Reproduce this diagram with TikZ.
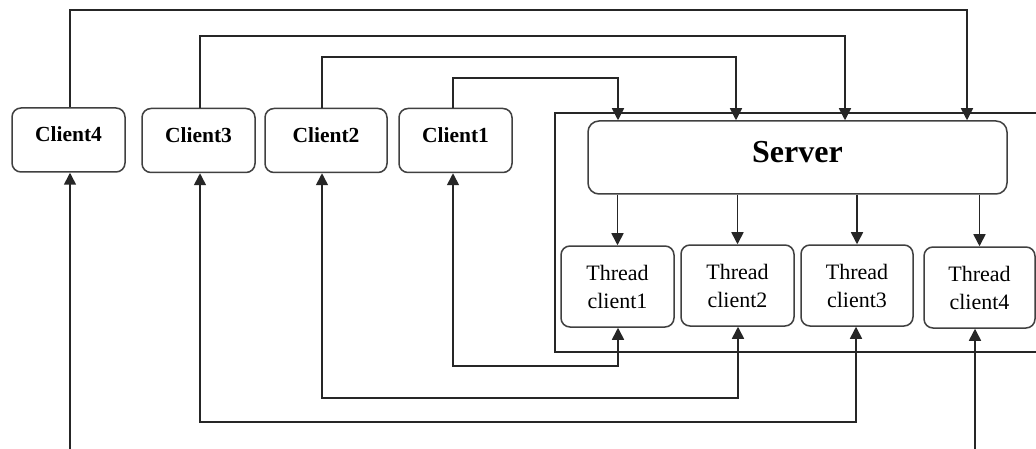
\documentclass[tikz,border=0pt]{standalone}
\usepackage{fontspec}
\setmainfont{Liberation Serif}
\usetikzlibrary{arrows.meta,calc}
\begin{document}
\begin{tikzpicture}[x=1pt,y=-1pt,
  box/.style={draw=black!75, line width=1.5pt, rounded corners=9pt, fill=white, inner sep=0pt},
  clientbox/.style={box, minimum width=113pt, minimum height=64pt,
    font=\fontsize{21.5}{25}\selectfont\bfseries, text height=14pt, text depth=10.5pt},
  threadbox/.style={box, minimum width=113pt, minimum height=81pt, align=center,
    font=\fontsize{22}{28}\selectfont},
  conn/.style={draw=black!85, line width=1.6pt},
  tip/.tip={Triangle[length=12pt,width=12pt]},
  arr/.style={conn, -tip},
  biarr/.style={conn, tip-tip}
]
\useasboundingbox (0,0) rectangle (1036,449);
\clip (0,0) rectangle (1036,449);
\fill[white] (0,0) rectangle (1036,449);

% server side container, open towards the right
\draw[conn] (1045,113) -- (555,113) -- (555,352) -- (1045,352);

% clients
\node[clientbox] (c4) at (68.5,140) {Client4};
\node[clientbox] (c3) at (198.5,140.5) {Client3};
\node[clientbox, minimum width=122pt] (c2) at (326,140.5) {Client2};
\node[clientbox] (c1) at (455.5,140.5) {Client1};

% server and its client threads
\node[box, minimum width=419pt, minimum height=73pt, rounded corners=11pt,
  font=\fontsize{32}{36}\selectfont\bfseries, text height=22pt, text depth=11pt]
  (srv) at (797.5,157.5) {Server};
\node[threadbox] (t1) at (617.5,286.5) {Thread\\client1};
\node[threadbox] (t2) at (737.5,285.5) {Thread\\client2};
\node[threadbox, minimum width=112pt] (t3) at (857,285.5) {Thread\\client3};
\node[threadbox, minimum width=111pt] (t4) at (979.5,287.5) {Thread\\client4};

% requests: clients to server
\coordinate (u4) at (967,10);
\coordinate (u3) at (845,36);
\coordinate (u2) at (736,57);
\coordinate (u1) at (618,78);
\draw[arr] ([xshift=1.5pt]c4.north) |- (u4) -- (u4 |- srv.north);
\draw[arr] ([xshift=1.5pt]c3.north) |- (u3) -- (u3 |- srv.north);
\draw[arr] ([xshift=-4pt]c2.north) |- (u2) -- (u2 |- srv.north);
\draw[arr] ([xshift=-2.5pt]c1.north) |- (u1) -- (u1 |- srv.north);

% server spawns one thread per client
\draw[arr] (t1.north |- srv.south) -- (t1.north);
\draw[arr] (t2.north |- srv.south) -- (t2.north);
\draw[arr] (t3.north |- srv.south) -- (t3.north);
\draw[arr] (t4.north |- srv.south) -- (t4.north);

% threads talking back to their clients
\coordinate (d1) at (618,366);
\coordinate (d2) at (738,398);
\coordinate (d3) at (856,422);
\coordinate (d4) at (975,470);
\draw[biarr] ([xshift=-2.5pt]c1.south) |- (d1) -- (d1 |- t1.south);
\draw[biarr] ([xshift=-4pt]c2.south) |- (d2) -- (d2 |- t2.south);
\draw[biarr] ([xshift=1.5pt]c3.south) |- (d3) -- (d3 |- t3.south);
\draw[biarr] ([xshift=1.5pt]c4.south) |- (d4) -- (d4 |- t4.south);
\end{tikzpicture}
\end{document}
